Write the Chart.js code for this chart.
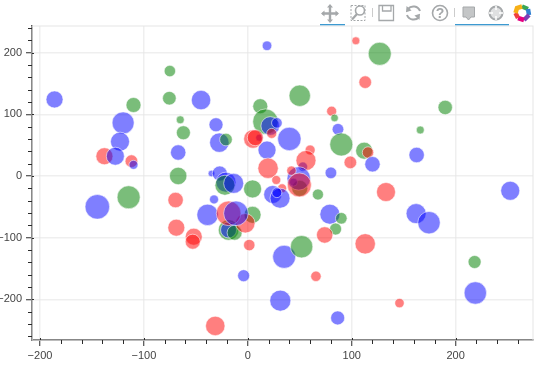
<!DOCTYPE html>
<html>
<head>
<meta charset="utf-8">
<script src="https://cdn.jsdelivr.net/npm/chart.js@4/dist/chart.umd.min.js"></script>
<style>
    html, body { margin: 0; padding: 0; background: #fff; }
    #wrap { position: relative; width: 541px; height: 367px; overflow: hidden; }
    #toolbar { position: absolute; left: 0; top: 0; }
    canvas { position: absolute; left: 0; top: 0; }
</style>
</head>
<body>
<div id="wrap">
    <canvas id="bubbles" width="541" height="367"></canvas>
    <svg id="toolbar" width="541" height="27" viewBox="0 0 541 27">
        <!-- pan -->
        <g stroke="#a5a8aa" stroke-width="2.4" fill="#a5a8aa">
            <path d="M330 6V21M322.5 13.5H337.5" fill="none"/>
            <path d="M330 4l3 3.5h-6zM330 23l3-3.5h-6zM321 13.5l3.5-3v6zM339 13.5l-3.5-3v6z" stroke="none"/>
        </g>
        <rect x="320" y="24" width="25" height="1.3" fill="#3d9ad1"/>
        <!-- box zoom -->
        <rect x="351" y="5.5" width="14" height="15" fill="none" stroke="#a5a8aa" stroke-dasharray="2 1.5"/>
        <circle cx="360" cy="10.5" r="4.5" fill="#fff" stroke="#a5a8aa" stroke-width="1.6"/>
        <path d="M357 14L352 19.5" stroke="#a5a8aa" stroke-width="2.2"/>
        <rect x="372" y="8" width="1" height="9" fill="#ccc"/>
        <!-- save -->
        <path d="M379 5.5H393.5V20.5H379ZM382.5 5.5V11H391V5.5" fill="none" stroke="#a5a8aa" stroke-width="1.3"/>
        <!-- reset -->
        <path d="M420 11a7 7 0 0 0-12-2M407 15a7 7 0 0 0 12 2" fill="none" stroke="#a5a8aa" stroke-width="2"/>
        <path d="M405 8l6 3l-5 3zM421 18l-6-3l5-3z" fill="#a5a8aa" transform="rotate(15 413 13)"/>
        <!-- help -->
        <circle cx="440" cy="13" r="7.5" fill="none" stroke="#a5a8aa" stroke-width="1.6"/>
        <text x="440" y="18" text-anchor="middle" font-family="Liberation Sans" font-weight="bold" font-size="14" fill="#a5a8aa">?</text>
        <rect x="454" y="8" width="1" height="9" fill="#ccc"/>
        <!-- hover -->
        <path d="M463 7H474.5V17H471L468.5 20L466 17H463Z" fill="#c4c6c7" stroke="#a5a8aa"/>
        <rect x="455" y="24" width="54" height="1.3" fill="#3d9ad1"/>
        <!-- crosshair -->
        <circle cx="496" cy="13" r="6.5" fill="#dfe0e1" stroke="#a5a8aa" stroke-width="2"/>
        <path d="M496 6V10M496 16V20M489 13H493M499 13H503" stroke="#fff" stroke-width="1.5"/>
        <!-- logo -->
        <g fill="none" stroke-width="4.5">
            <path d="M522 6.5L528 9" stroke="#3aa655"/>
            <path d="M528 9L529 15" stroke="#2f7fd0"/>
            <path d="M529 15L524 20" stroke="#7b3fb5"/>
            <path d="M524 20L518 18" stroke="#e5007f"/>
            <path d="M518 18L515.5 13" stroke="#f0403c"/>
            <path d="M515.5 13L517 8L522 6.5" stroke="#f7b016"/>
        </g>
    </svg>
</div>
<script>
// bokeh style scatter. Order matters, later bubbles sit on top
const bubbleX = [-186, -75, 18.5, -110, -75.5, -45, -120, -65, -62, -30.6, -123, -27.4, -21, -138, -127.5, -112, -110, -67, -67,
    -35, -27, -144.8, -114.7, -69.5, -32.5, -38.7, -68.8, -52, -53, -18.5, -18.5, -12.7, -31.3, 1.4, -4,
    4.6, 4.6, -2.4, -18.5, -11.4, -21, -22, -13.6,
    12, 17, 21.6, 28, 18.5, 11, 5, 7.2, 23, 40, 19.5,
    104, 127, 113, 50, 190, 80.7, 83.5, 166, 86.8, 90, 112, 115.7, 120, 162.5, 98.7, 80,
    53, 60, 56, 50, 44, 49, 42, 49.6, 27.4, 133, 252.6, 67.5,
    33, 24, 31, 28, 79, 90, 84.5, 74, 113, 162, 174.4, 218.3, 219, 146, 65.6, 35, 51.8, 31.3, 86.5];
const bubbleY = [124, 170, 211, 115, 126, 123, 86, 91, 70, 83, 55.6, 54, 59, 32, 32, 24, 18, 38, 0,
    4, 4, -50, -34.5, -39, -38, -63, -83.8, -98.4, -106.5, -87.5, -87.5, -92, -243, -112, -161.6,
    -21, -63, -76.7, -60.5, -60.5, -10, -15, -12,
    113, 88, 81, 86, 42, 62, 60, 62, 69, 60, 12.5,
    219, 198, 152, 130, 111, 105, 94, 74.5, 75.7, 51, 41, 38, 19, 34, 22, 5,
    15, 42, 25, -20, -10, -4, 8.6, -14.6, -6.5, -26, -24, -30,
    -20, -30, -36, -27, -62, -68.6, -86, -95.6, -110, -61, -75.7, -139.4, -189.6, -206, -162.6, -131, -114.6, -202, -230];
const bubbleSize = [8.5, 5.7, 4.8, 7.5, 6.8, 9.7, 11, 4, 7, 7, 9.5, 9.7, 6.3, 8.5, 9, 6.3, 4.5, 7.7, 8.7,
    3.3, 7.5, 12.3, 11.5, 7.7, 4.5, 10.7, 8.5, 8.5, 7.5, 10.3, 8, 7.5, 9.7, 5.7, 6,
    9, 8.5, 9.7, 12.3, 12.3, 10, 10, 10,
    7.5, 12.7, 9.3, 5.3, 9, 3.5, 9.3, 8, 5, 11.7, 10.2,
    4, 11.5, 6.3, 10.7, 7.2, 5, 3.8, 4, 5.8, 11.5, 8.5, 5.7, 7.7, 7.7, 6.3, 5.8,
    4.7, 5, 10, 8, 4, 11.7, 4.7, 12, 4.5, 9.5, 9.5, 5.5,
    4.5, 9, 10, 5, 10, 5.8, 6, 8.2, 10.2, 10, 11.2, 6.5, 11.2, 4.7, 5.2, 11.5, 11.2, 10.5, 7];
const bubbleGroup = ['b', 'g', 'b', 'g', 'g', 'b', 'b', 'g', 'g', 'b', 'b', 'b', 'g', 'r', 'b', 'r', 'b', 'b', 'g',
    'b', 'b', 'b', 'g', 'r', 'b', 'b', 'r', 'r', 'r', 'g', 'b', 'g', 'r', 'r', 'b',
    'g', 'g', 'r', 'r', 'b', 'b', 'g', 'b',
    'g', 'g', 'b', 'b', 'b', 'b', 'r', 'r', 'r', 'b', 'r',
    'r', 'g', 'r', 'g', 'g', 'r', 'g', 'g', 'b', 'g', 'g', 'r', 'b', 'b', 'r', 'b',
    'b', 'r', 'r', 'g', 'b', 'b', 'r', 'r', 'r', 'r', 'b', 'g',
    'r', 'b', 'b', 'b', 'b', 'g', 'g', 'r', 'r', 'b', 'b', 'g', 'b', 'r', 'r', 'b', 'g', 'b', 'b'];

const xMajor = [-200, -100, 0, 100, 200];
const yMajor = [-200, -100, 0, 100, 200];
const xMinor = [-180, -160, -140, -120, -80, -60, -40, -20, 20, 40, 60, 80, 120, 140, 160, 180, 220, 240, 260];
const yMinor = [-260, -240, -220, -180, -160, -140, -120, -80, -60, -40, -20, 20, 40, 60, 80, 120, 140, 160, 180, 220, 240];

const groupFill = { r: 'rgba(255,0,0,0.5)', g: 'rgba(0,128,0,0.52)', b: 'rgba(0,0,255,0.5)' };
const AXIS_COLOR = '#2b2b2b';
const GRID_COLOR = 'rgba(229,229,229,0.6)';

// major ticks only on the scale, everything else is drawn by this plugin
const bokehFrame = {
    id: 'bokehFrame',
    beforeDatasetsDraw(chart) {
        const { ctx, chartArea: a } = chart;
        ctx.save();
        ctx.strokeStyle = '#e5e5e5';
        ctx.lineWidth = 1;
        ctx.strokeRect(a.left, a.top, a.right - a.left, a.bottom - a.top);
        ctx.restore();
    },
    afterDraw(chart) {
        const { ctx, chartArea: a, scales } = chart;
        ctx.save();
        ctx.strokeStyle = AXIS_COLOR;
        ctx.lineWidth = 1;
        ctx.beginPath();
        xMinor.forEach(v => {
            const px = Math.round(scales.x.getPixelForValue(v)) + 0.5;
            ctx.moveTo(px, a.bottom);
            ctx.lineTo(px, a.bottom + 4);
        });
        yMinor.forEach(v => {
            const py = Math.round(scales.y.getPixelForValue(v)) + 0.5;
            ctx.moveTo(a.left, py);
            ctx.lineTo(a.left - 4, py);
        });
        xMajor.forEach(v => {
            const px = Math.round(scales.x.getPixelForValue(v)) + 0.5;
            ctx.moveTo(px, a.bottom - 2);
            ctx.lineTo(px, a.bottom);
        });
        yMajor.forEach(v => {
            const py = Math.round(scales.y.getPixelForValue(v)) + 0.5;
            ctx.moveTo(a.left, py);
            ctx.lineTo(a.left + 2, py);
        });
        ctx.stroke();
        ctx.restore();
    }
};

function axisOptions(min, max, majors, labelGap) {
    return {
        type: 'linear',
        min: min,
        max: max,
        afterBuildTicks: scale => { scale.ticks = majors.map(v => ({ value: v })); },
        grid: {
            color: GRID_COLOR,
            lineWidth: 1.5,
            tickColor: AXIS_COLOR,
            tickLength: 6,
            tickWidth: 1
        },
        border: { color: AXIS_COLOR, width: 1.5 },
        ticks: {
            color: '#444',
            padding: labelGap,
            maxRotation: 0,
            autoSkip: false,
            font: { family: '"Liberation Sans"', size: 11 },
            callback: v => String(v).replace('-', '\u2212')
        }
    };
}

const xAxis = axisOptions(-207.7, 274.5, xMajor, 3);
xAxis.afterFit = scale => { scale.height = 27; };
const yAxis = axisOptions(-265.8, 243, yMajor, 4);
yAxis.afterFit = scale => { scale.width = 32; };

new Chart(document.getElementById('bubbles').getContext('2d'), {
    type: 'bubble',
    data: {
        datasets: [{
            data: bubbleX.map((x, i) => ({ x: x, y: bubbleY[i], r: bubbleSize[i] })),
            backgroundColor: bubbleGroup.map(g => groupFill[g]),
            borderColor: 'rgba(255,255,255,0.55)',
            borderWidth: 1,
            hoverRadius: 0
        }]
    },
    options: {
        responsive: false,
        animation: false,
        layout: { autoPadding: false, padding: { top: 26, right: 8, left: 0, bottom: 0 } },
        plugins: { legend: { display: false }, tooltip: { enabled: false } },
        scales: { x: xAxis, y: yAxis }
    },
    plugins: [bokehFrame]
});
</script>
</body>
</html>
